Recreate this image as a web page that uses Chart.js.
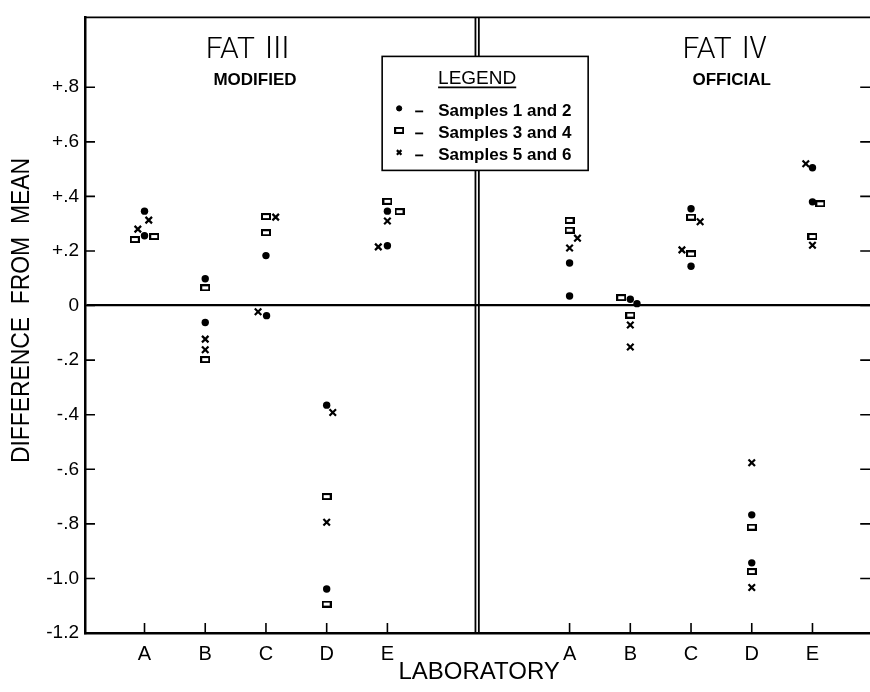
<!DOCTYPE html>
<html><head><meta charset="utf-8">
<script src="https://cdn.jsdelivr.net/npm/chart.js@4"></script>
<style>html,body{margin:0;padding:0;background:#fff;overflow:hidden;}#wrap{width:880px;height:692px;}</style>
</head><body><div id="wrap"><canvas id="c" width="880" height="692"></canvas></div>
<script>
// ---- data ----
const labTickPos = [1,2,3,4,5, 8,9,10,11,12];
const labTickLabels = ['A','B','C','D','E','A','B','C','D','E'];
const yTicks = [0.8,0.6,0.4,0.2,0,-0.2,-0.4,-0.6,-0.8,-1.0,-1.2];
const yTickLabels = ['+.8','+.6','+.4','+.2','0','-.2','-.4','-.6','-.8','-1.0','-1.2'];
const dividerX = 6.478;
const panelTitles = ['FAT \u2162','FAT \u2163'];
const panelSubtitles = ['MODIFIED','OFFICIAL'];
const panelCenters = [2.72, 10.57];
const seriesLabels = ['Samples 1 and 2','Samples 3 and 4','Samples 5 and 6'];
const yAxisTitle = 'DIFFERENCE  FROM  MEAN';
const xAxisTitle = 'LABORATORY';

const samples12X = [1,1,2,2,3,3.01,4,4,5,5, 8,8,9,9.11,10,10,11,11,12,12];
const samples12Y = [0.346,0.256,0.098,-0.062,0.183,-0.037,-0.365,-1.039,0.346,0.219, 0.156,0.035,0.023,0.007,0.355,0.144,-0.767,-0.943,0.505,0.38];
const samples34X = [0.84,1.16,2,2,3,3,4,4,5,5.2, 8,8,8.85,9,10,10,11,11,12.13,12];
const samples34Y = [0.242,0.253,0.065,-0.198,0.326,0.267,-0.70,-1.094,0.382,0.344, 0.312,0.276,0.029,-0.035,0.324,0.189,-0.812,-0.975,0.373,0.253];
const samples56X = [1.07,0.89,2,2,3.16,2.87,4.1,4,5,4.85, 8.13,8,9,9,10.15,9.85,11,11,11.89,12];
const samples56Y = [0.313,0.28,-0.123,-0.162,0.324,-0.023,-0.392,-0.794,0.31,0.215, 0.247,0.211,-0.071,-0.152,0.307,0.204,-0.576,-1.033,0.52,0.221];

// ---- marker for open rectangles ----
const rectMark = document.createElement('canvas');
rectMark.width = 10; rectMark.height = 7;
(function(){const g=rectMark.getContext('2d');g.strokeStyle='#000';g.lineWidth=2;g.strokeRect(1,1,8,5);})();

const FONT = "'Liberation Sans', Arial, Helvetica, sans-serif";
Chart.defaults.font.family = FONT;
Chart.defaults.color = '#000';

function pts(xs, ys){ return xs.map((v,i)=>({x:v,y:ys[i]})); }

const datasets = [
  {label: seriesLabels[0], data: pts(samples12X, samples12Y), pointStyle:'circle', pointRadius:3.7, pointBorderWidth:0, backgroundColor:'#000', borderColor:'#000'},
  {label: seriesLabels[1], data: pts(samples34X, samples34Y), pointStyle: rectMark, pointRadius:4, backgroundColor:'#000', borderColor:'#000'},
  {label: seriesLabels[2], data: pts(samples56X, samples56Y), pointStyle:'crossRot', pointRadius:4.6, pointBorderWidth:2.2, backgroundColor:'#000', borderColor:'#000'}
];

const framePlugin = {
  id:'frame',
  beforeDatasetsDraw(chart){
    const {ctx, chartArea:a, scales:{x,y}} = chart;
    ctx.save();
    ctx.strokeStyle = '#000';
    ctx.lineWidth = 1.6;
    ctx.beginPath(); ctx.moveTo(a.left, a.top); ctx.lineTo(a.right, a.top); ctx.stroke();
    ctx.lineWidth = 2.5;
    ctx.beginPath(); ctx.moveTo(a.right, a.top); ctx.lineTo(a.right, a.bottom); ctx.stroke();
    ctx.lineWidth = 1.6;
    y.ticks.forEach(t=>{
      const py = y.getPixelForValue(t.value);
      ctx.beginPath();
      ctx.moveTo(a.left, py); ctx.lineTo(a.left+10, py);
      ctx.moveTo(a.right, py); ctx.lineTo(a.right-13, py);
      ctx.stroke();
    });
    x.ticks.forEach(t=>{
      const px = x.getPixelForValue(t.value);
      ctx.beginPath(); ctx.moveTo(px, a.bottom); ctx.lineTo(px, a.bottom-10); ctx.stroke();
    });
    const dx = x.getPixelForValue(dividerX);
    ctx.lineWidth = 1.8;
    [-1.7, 1.7].forEach(o=>{ ctx.beginPath(); ctx.moveTo(dx+o, a.top); ctx.lineTo(dx+o, a.bottom); ctx.stroke(); });
    ctx.restore();
  },
  afterDatasetsDraw(chart){
    const {ctx, chartArea:a, scales:{x,y}} = chart;
    ctx.save();
    ctx.fillStyle = '#000';
    ctx.textAlign = 'center';
    ctx.textBaseline = 'middle';
    // y-axis title (slightly condensed lettering)
    ctx.save();
    ctx.translate(22, y.getPixelForValue(0.0) + 5);
    ctx.rotate(-Math.PI/2);
    ctx.scale(0.88, 1);
    ctx.font = "26px " + FONT;
    ctx.fillText(yAxisTitle, 0, 0);
    ctx.restore();
    panelTitles.forEach((t,i)=>{
      const cx = x.getPixelForValue(panelCenters[i]);
      ctx.font = "300 30px Roboto, 'Noto Sans CJK JP', " + FONT;
      ctx.fillText(t, cx, a.top + 33);
      ctx.font = "bold 17px " + FONT;
      ctx.fillText(panelSubtitles[i], cx + 6, a.top + 63);
    });
    // legend box
    const bx = x.getPixelForValue(dividerX) - 95, by = a.top + 39, bw = 206, bh = 114;
    ctx.fillStyle = '#fff';
    ctx.fillRect(bx, by, bw, bh);
    ctx.strokeStyle = '#000'; ctx.lineWidth = 1.6;
    ctx.strokeRect(bx, by, bw, bh);
    ctx.fillStyle = '#000';
    ctx.font = "19px " + FONT;
    const lx = bx + 95;
    ctx.fillText('LEGEND', lx, by + 22);
    const lw = ctx.measureText('LEGEND').width;
    ctx.lineWidth = 1.6;
    ctx.beginPath(); ctx.moveTo(lx - lw/2, by + 31); ctx.lineTo(lx + lw/2, by + 31); ctx.stroke();
    const rowY = [by + 55, by + 77, by + 99];
    chart.data.datasets.forEach((ds, i)=>{
      const yy = rowY[i];
      ctx.fillStyle = '#000'; ctx.strokeStyle = '#000';
      ctx.lineWidth = ds.pointBorderWidth !== undefined ? Math.max(ds.pointBorderWidth,1) : 1;
      Chart.helpers.drawPoint(ctx, {pointStyle: ds.pointStyle, rotation:0, radius: ds.pointStyle==='circle'?2.6:3.2, borderWidth: ctx.lineWidth}, bx + 17, yy - 3);
      ctx.lineWidth = 1.8;
      ctx.beginPath(); ctx.moveTo(bx + 33, yy); ctx.lineTo(bx + 41, yy); ctx.stroke();
      ctx.font = "bold 17px " + FONT;
      ctx.textAlign = 'left';
      ctx.fillText(ds.label, bx + 56, yy);
      ctx.textAlign = 'center';
    });
    ctx.restore();
  }
};

new Chart(document.getElementById('c'), {
  type: 'scatter',
  data: { datasets },
  options: {
    responsive: false,
    animation: false,
    layout: { padding: { top: 11, right: 6, left: 0, bottom: 0 } },
    plugins: { legend: { display:false }, tooltip: { enabled:false } },
    scales: {
      x: {
        type: 'linear', min: 0.02, max: 13.0,
        afterBuildTicks: s => { s.ticks = labTickPos.map(v=>({value:v})); },
        afterFit: s => { s.height = 59; },
        ticks: { callback: (v,i) => labTickLabels[i], font:{size:20}, color:'#000', padding:9, maxRotation:0, autoSkip:false },
        grid: { display:false, drawTicks:false },
        border: { display:true, color:'#000', width:2.5 },
        title: { display:true, text:xAxisTitle, font:{size:24}, color:'#000', padding:{top:0, bottom:5} }
      },
      y: {
        type: 'linear', min: -1.2, max: 1.056,
        afterBuildTicks: s => { s.ticks = yTicks.map(v=>({value:v})); },
        afterFit: s => { s.width = 85; },
        ticks: { callback: (v,i) => yTickLabels[i], font:{size:19}, color:'#000', padding:6, autoSkip:false },
        grid: { drawTicks:false, color: c => (c.tick && c.tick.value === 0) ? '#000' : 'rgba(0,0,0,0)', lineWidth: 2.2 },
        border: { display:true, color:'#000', width:2.5 },
        title: { display:false }
      }
    }
  },
  plugins: [framePlugin]
});
</script></body></html>
